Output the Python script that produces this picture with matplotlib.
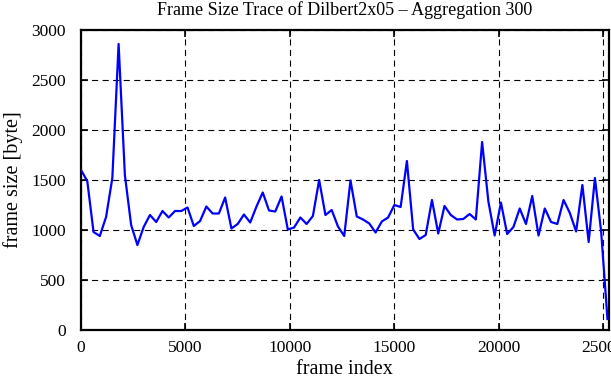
import numpy as np
import matplotlib
matplotlib.use('Agg')
import matplotlib.pyplot as plt

# mean frame size per block of 300 frames
aggregation = 300
frame_size = [1600, 1490, 980, 940, 1130, 1520, 2860, 1550, 1050, 850,
              1030, 1150, 1080, 1190, 1125, 1190, 1190, 1225, 1040, 1090,
              1235, 1165, 1165, 1325, 1015, 1060, 1155, 1075, 1235, 1375,
              1195, 1185, 1335, 1005, 1025, 1125, 1060, 1140, 1500, 1150,
              1200, 1035, 940, 1495, 1135, 1105, 1065, 975, 1085, 1125,
              1250, 1230, 1690, 1005, 910, 950, 1300, 965, 1240, 1150,
              1105, 1110, 1160, 1105, 1880, 1285, 945, 1275, 960, 1030,
              1215, 1060, 1340, 945, 1215, 1080, 1060, 1300, 1170, 985,
              1450, 880, 1520, 980, 110]
frame_index = np.arange(len(frame_size)) * aggregation

x_ticks = [0, 5000, 10000, 15000, 20000, 25000]
y_ticks = [0, 500, 1000, 1500, 2000, 2500, 3000]

plt.rcParams['font.family'] = ['Liberation Serif', 'DejaVu Serif']

fig = plt.figure(figsize=(6.11, 3.80), dpi=100)
ax = fig.add_axes([81/611, 1 - 330/380, (608.5 - 81)/611, 300/380])

ax.plot(frame_index, frame_size, color='#0000ff', lw=1.6, zorder=3)

ax.set_xlim(0, 25250)
ax.set_ylim(0, 3000)
ax.set_xticks(x_ticks)
ax.set_yticks(y_ticks)
ax.grid(True, color='black', lw=0.8, linestyle=(0, (5.5, 4)))
ax.tick_params(direction='in', length=5, width=1.2, top=True, right=True,
               labelsize=12.5)
ax.tick_params(axis='x', pad=7)
ax.tick_params(axis='y', pad=11)
for s in ax.spines.values():
    s.set_linewidth(1.6)

ax.set_xlabel('frame index', fontsize=14.5, labelpad=3)
ax.set_ylabel('frame size [byte]', fontsize=14.5, labelpad=6)
ax.set_title('Frame Size Trace of Dilbert2x05 \u2013 Aggregation 300', fontsize=13, pad=11)

fig.savefig('out.png', dpi=100)
